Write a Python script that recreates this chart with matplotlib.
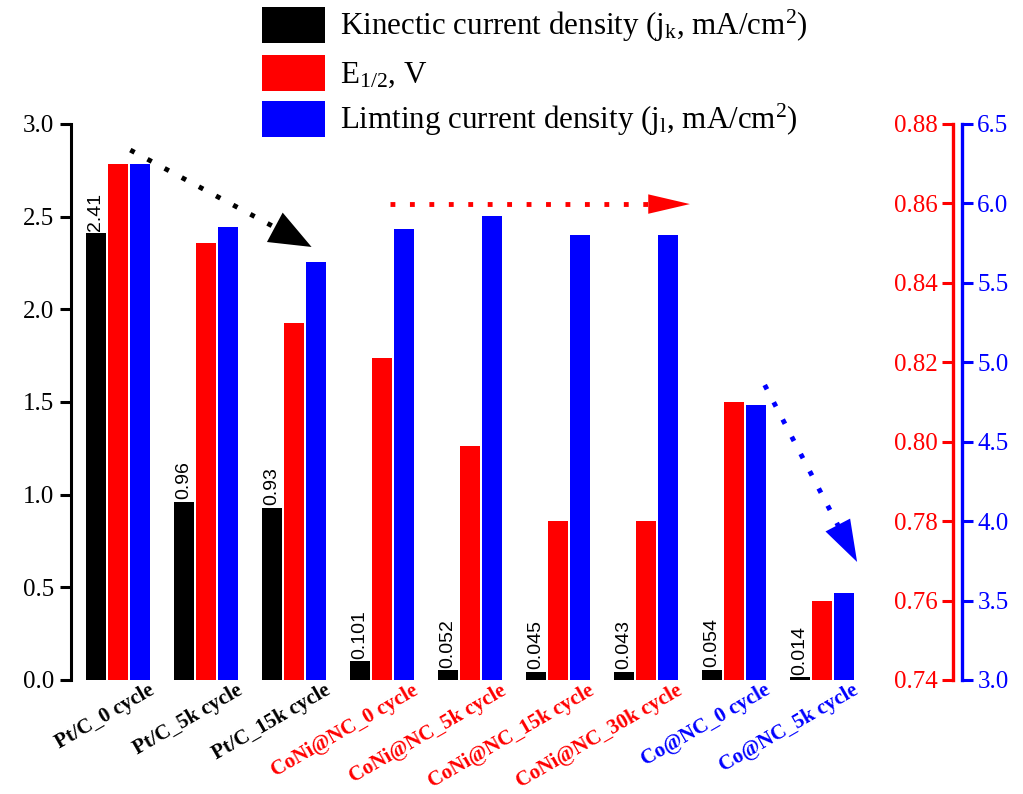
import matplotlib
matplotlib.use('Agg')
import matplotlib.pyplot as plt
import numpy as np
from matplotlib.patches import Patch
from matplotlib.transforms import ScaledTranslation
from matplotlib import font_manager as fm

# data
samples = ['Pt/C_0 cycle', 'Pt/C_5k cycle', 'Pt/C_15k cycle',
           'CoNi@NC_0 cycle', 'CoNi@NC_5k cycle', 'CoNi@NC_15k cycle', 'CoNi@NC_30k cycle',
           'Co@NC_0 cycle', 'Co@NC_5k cycle']
label_colors = ['black', 'black', 'black', 'red', 'red', 'red', 'red', 'blue', 'blue']
jk = [2.41, 0.96, 0.93, 0.101, 0.052, 0.045, 0.043, 0.054, 0.014]
jk_text = ['2.41', '0.96', '0.93', '0.101', '0.052', '0.045', '0.043', '0.054', '0.014']
e_half = [0.870, 0.850, 0.830, 0.821, 0.799, 0.780, 0.780, 0.810, 0.760]
jl = [6.25, 5.85, 5.63, 5.84, 5.92, 5.80, 5.80, 4.73, 3.55]

SERIF = ['Liberation Serif', 'DejaVu Serif']
plt.rcParams['font.family'] = 'serif'
plt.rcParams['font.serif'] = SERIF
plt.rcParams['mathtext.fontset'] = 'custom'
plt.rcParams['mathtext.rm'] = 'Liberation Serif'
plt.rcParams['mathtext.it'] = 'Liberation Serif:italic'

fig = plt.figure(figsize=(10.23, 7.94), dpi=100)
ax = fig.add_axes([71 / 1023, 114 / 794, 882 / 1023, 556 / 794])
ax_r = ax.twinx()
ax_b = ax.twinx()

x = np.arange(len(samples))
w = 0.22
off = 0.25

ax.bar(x - off, jk, width=w, color='black', edgecolor='none')
ax_r.bar(x, e_half, width=w, color='#ff0000', edgecolor='none')
ax_b.bar(x + off, jl, width=w, color='#0000ff', edgecolor='none')

for xi, v, t in zip(x, jk, jk_text):
    ax.text(xi - off, v + 0.015, t, rotation=90, ha='center', va='bottom',
            fontsize=14, family=['Liberation Sans', 'DejaVu Sans'])

ax.set_xlim(-0.534, 9.49)
ax.set_ylim(0, 3.0)
ax_r.set_ylim(0.74, 0.88)
ax_b.set_ylim(3.0, 6.5)

for a in (ax, ax_r, ax_b):
    for s in a.spines.values():
        s.set_visible(False)

ax.spines['left'].set_visible(True)
ax.spines['left'].set_linewidth(2.2)
ax.tick_params(axis='y', direction='out', length=8, width=2.2, pad=4)

# red axis: spine at right edge, ticks and labels to its left
ax_r.yaxis.tick_left()
ax_r.yaxis.set_label_position('left')
ax_r.spines['left'].set_visible(True)
ax_r.spines['left'].set_position(('axes', 1.0))
ax_r.spines['left'].set_color('red')
ax_r.spines['left'].set_linewidth(2.4)
ax_r.tick_params(axis='y', colors='red', direction='out', length=8, width=2.2, pad=3)

# blue axis just right of it
ax_b.spines['right'].set_visible(True)
ax_b.spines['right'].set_position(('axes', 1 + 9 / 882))
ax_b.spines['right'].set_color('blue')
ax_b.spines['right'].set_linewidth(2.4)
ax_b.tick_params(axis='y', colors='blue', direction='out', length=8, width=2.2, pad=3)

tick_font = fm.FontProperties(family='Liberation Serif', size=18)
k_ticks = np.arange(0, 3.01, 0.5)
e_ticks = np.arange(0.74, 0.881, 0.02)
l_ticks = np.arange(3.0, 6.51, 0.5)
ax.set_yticks(k_ticks)
ax.set_yticklabels(['%.1f' % v for v in k_ticks], fontproperties=tick_font)
ax_r.set_yticks(e_ticks)
ax_r.set_yticklabels(['%.2f' % v for v in e_ticks], fontproperties=tick_font, color='red')
ax_b.set_yticks(l_ticks)
ax_b.set_yticklabels(['%.1f' % v for v in l_ticks], fontproperties=tick_font, color='blue')

ax.set_xticks(x)
ax.set_xticklabels(samples, rotation=30, ha='right', va='top', rotation_mode='anchor',
                   fontproperties=fm.FontProperties(family='Liberation Serif', weight='bold', size=15))
ax.tick_params(axis='x', length=0, pad=0)
for lab, c in zip(ax.get_xticklabels(), label_colors):
    lab.set_color(c)
    lab.set_transform(lab.get_transform() + ScaledTranslation(0.30, -0.005, fig.dpi_scale_trans))


# dotted trend arrows (blue-axis data coords)
def dotted_arrow(p0, p1, color, hl, hw):
    p0 = np.array(p0)
    p1 = np.array(p1)
    pb = p0 + (p1 - p0) * 0.88
    ax_b.plot([p0[0], pb[0]], [p0[1], pb[1]], color=color, lw=3.5,
              ls=(0, (1, 3)), dash_capstyle='butt')
    ax_b.annotate('', xy=tuple(p1), xytext=tuple(p1 - (p1 - p0) * 0.01),
                  arrowprops=dict(arrowstyle='-|>,head_length=%s,head_width=%s' % (hl, hw),
                                  color=color, lw=0, mutation_scale=20, shrinkA=0, shrinkB=0))


dotted_arrow((0.14, 6.336), (2.2, 5.726), 'black', 1.5, 0.6)
dotted_arrow((3.09, 5.996), (6.5, 5.996), 'red', 1.5, 0.35)
dotted_arrow((7.35, 4.857), (8.4, 3.743), 'blue', 1.5, 0.5)

handles = [Patch(facecolor='black', edgecolor='none'),
           Patch(facecolor='#ff0000', edgecolor='none'),
           Patch(facecolor='#0000ff', edgecolor='none')]
labels = ['Kinectic current density (j$_\\mathrm{k}$, mA/cm$^2$)',
          'E$_{1/2}$, V',
          'Limting current density (j$_\\mathrm{l}$, mA/cm$^2$)']
fig.legend(handles, labels, loc='upper left', bbox_to_anchor=(262 / 1023, 1 - 7 / 794),
           frameon=False, fontsize=22.3, handlelength=2.03, handleheight=1.42,
           handletextpad=0.5, labelspacing=0.33, borderpad=0, borderaxespad=0)

plt.savefig('out.png', dpi=100)
plt.close()
